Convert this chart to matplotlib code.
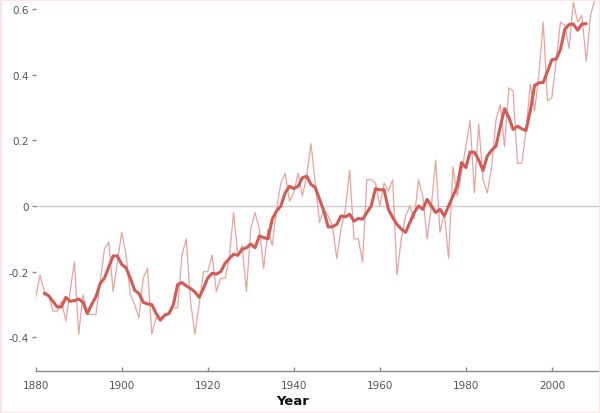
import matplotlib
matplotlib.use("Agg")
import matplotlib.pyplot as plt
from matplotlib.patches import Rectangle
import numpy as np

# ---- data ----
annual_years = list(range(1880, 2011))
annual = [
    -0.28, -0.21, -0.26, -0.27, -0.32, -0.32, -0.29, -0.35, -0.26, -0.17,   # 1880s
    -0.39, -0.27, -0.33, -0.33, -0.33, -0.23, -0.13, -0.11, -0.26, -0.17,   # 1890s
    -0.08, -0.15, -0.27, -0.30, -0.34, -0.22, -0.19, -0.39, -0.34, -0.35,   # 1900s
    -0.33, -0.33, -0.31, -0.31, -0.15, -0.10, -0.29, -0.39, -0.30, -0.20,   # 1910s
    -0.20, -0.15, -0.26, -0.22, -0.22, -0.16, -0.02, -0.15, -0.12, -0.26,   # 1920s
    -0.07, -0.02, -0.07, -0.19, -0.07, -0.12, -0.01, 0.07, 0.10, 0.015,     # 1930s
    0.04, 0.10, 0.03, 0.09, 0.19, 0.07, -0.05, -0.01, -0.03, -0.06,         # 1940s
    -0.16, -0.07, -0.01, 0.11, -0.10, -0.10, -0.17, 0.08, 0.08, 0.07,       # 1950s
    0.00, 0.07, 0.045, 0.08, -0.21, -0.10, -0.03, 0.00, -0.04, 0.08,        # 1960s
    0.03, -0.10, 0.00, 0.14, -0.08, -0.02, -0.16, 0.12, 0.03, 0.10,         # 1970s
    0.18, 0.26, 0.04, 0.25, 0.08, 0.04, 0.12, 0.26, 0.31, 0.18,             # 1980s
    0.36, 0.35, 0.13, 0.13, 0.23, 0.37, 0.29, 0.40, 0.56, 0.32,             # 1990s
    0.33, 0.44, 0.56, 0.55, 0.48, 0.62, 0.56, 0.58, 0.44, 0.58,             # 2000s
    0.63,                                                                   # 2010
]

mean5_years = list(range(1882, 2009))
mean5 = [
    -0.266, -0.273, -0.29, -0.307, -0.307, -0.278, -0.29, -0.288,           # 1882-1889
    -0.283, -0.293, -0.327, -0.30, -0.276, -0.236, -0.219, -0.185, -0.152, -0.152,  # 1890s
    -0.178, -0.188, -0.22, -0.256, -0.266, -0.293, -0.298, -0.30, -0.327, -0.347,   # 1900s
    -0.332, -0.327, -0.30, -0.239, -0.233, -0.243, -0.251, -0.261, -0.278, -0.251,  # 1910s
    -0.219, -0.205, -0.207, -0.20, -0.175, -0.16, -0.147, -0.15, -0.132, -0.127,    # 1920s
    -0.116, -0.127, -0.091, -0.096, -0.10, -0.04, -0.015, 0.0, 0.04, 0.06,          # 1930s
    0.053, 0.06, 0.086, 0.091, 0.066, 0.056, 0.02, -0.015, -0.064, -0.063,          # 1940s
    -0.056, -0.03, -0.033, -0.025, -0.046, -0.038, -0.04, -0.02, 0.0, 0.053,        # 1950s
    0.049, 0.05, -0.01, -0.035, -0.056, -0.07, -0.08, -0.05, -0.02, 0.0,            # 1960s
    -0.01, 0.02, 0.0, -0.02, -0.01, -0.03, 0.0, 0.03, 0.06, 0.132,                  # 1970s
    0.117, 0.164, 0.164, 0.14, 0.108, 0.152, 0.17, 0.182, 0.24, 0.296,              # 1980s
    0.27, 0.233, 0.243, 0.235, 0.23, 0.29, 0.367, 0.375, 0.376, 0.41,               # 1990s
    0.445, 0.447, 0.476, 0.537, 0.552, 0.554, 0.535, 0.554, 0.555,                  # 2000s
]

x_ticks = [1880, 1900, 1920, 1940, 1960, 1980, 2000]
y_ticks = [-0.4, -0.2, 0.0, 0.2, 0.4, 0.6]
y_tick_labels = ["-0.4", "-0.2", "0", "0.2", "0.4", "0.6"]

assert len(annual) == len(annual_years)
assert len(mean5) == len(mean5_years)

# ---- figure ----
W, H = 600, 414
fig = plt.figure(figsize=(W / 100, H / 100), dpi=100)
left_px, bottom_px = 35.7, 372.3
ax = fig.add_axes([left_px / W, 1 - bottom_px / H, 1 - left_px / W, bottom_px / H])

ax.set_xlim(1880, 2011.2)
ax.set_ylim(-0.503, 0.63)

ax.axhline(0, color="#cccccc", lw=1.0, zorder=0)

ax.plot(annual_years, annual, color="#e8a3a0", lw=0.9, zorder=2)
ax.plot(mean5_years, mean5, color="#d35b56", lw=2.2, zorder=3,
        solid_joinstyle="round", solid_capstyle="round")

for s in ["top", "right", "left"]:
    ax.spines[s].set_visible(False)
ax.spines["bottom"].set_color("#888888")
ax.spines["bottom"].set_linewidth(1.0)

ax.set_xticks(x_ticks)
ax.set_xticklabels([str(t) for t in x_ticks])
ax.set_yticks(y_ticks)
ax.set_yticklabels(y_tick_labels)

ax.tick_params(axis="x", direction="in", length=3, width=1, color="#888888",
               labelsize=7.5, labelcolor="#555555", pad=6)
ax.tick_params(axis="y", direction="out", length=3, width=1, color="#888888",
               labelsize=7.5, labelcolor="#555555", pad=2)

fig.text(293 / W, 1 - 402 / H, "Year", ha="center", va="center",
         fontsize=9.5, fontweight="bold", color="#111111")

fig.patches.append(Rectangle((0, 0), 1, 1, transform=fig.transFigure, fill=False,
                             edgecolor="#fbe3e3", lw=2, zorder=10))

fig.savefig("out.png", dpi=100)
